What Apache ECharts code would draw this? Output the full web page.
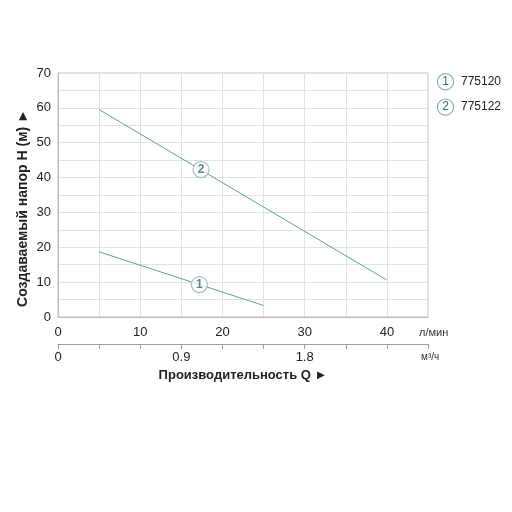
<!DOCTYPE html>
<html>
<head>
<meta charset="utf-8">
<script src="https://cdn.jsdelivr.net/npm/echarts@6/dist/echarts.min.js"></script>
<style>
  html, body { margin: 0; padding: 0; background: #fff; }
  #chart { width: 512px; height: 512px; }
</style>
</head>
<body>
<div id="chart"></div>
<script>
// flow in l/min, head in m
const pump1Flow = [5, 25];
const pump1Head = [18.7, 3.3];
const pump2Flow = [5, 40];
const pump2Head = [59.5, 10.6];

const models = ['775120', '775122'];
const badgeFlow = [17.2, 17.4];
const badgeHead = [9.3, 42.3];

// second scale, m³/h labels keyed by l/min tick
const m3hTickLabels = { 0: '0', 15: '0.9', 30: '1.8' };

const lineColor = '#5f9f9d';
const font = 'Liberation Sans, Arial, sans-serif';

const chart = echarts.init(document.getElementById('chart'));

const toPairs = (xs, ys) => xs.map((x, i) => [x, ys[i]]);

const badgeRich = {
  c: {
    width: 15, height: 15, lineHeight: 15,
    borderRadius: 8, borderColor: '#8db0af', borderWidth: 1.2,
    backgroundColor: '#fff', align: 'center',
    color: '#2d6e70', fontSize: 12, fontFamily: font
  },
  t: { color: '#222', fontSize: 12, fontFamily: font, padding: [0, 0, 0, 8] }
};

const option = {
  animation: false,
  grid: {
    left: 58, right: 84, top: 73, bottom: 195,
    containLabel: false, outerBoundsMode: 'none',
    show: true, borderColor: '#bdbdbd', borderWidth: 1
  },
  legend: {
    orient: 'vertical',
    left: 428, top: 68,
    itemGap: 8,
    icon: 'none',
    itemWidth: 0, itemHeight: 0,
    selectedMode: false,
    data: models,
    formatter: name => '{c|' + (models.indexOf(name) + 1) + '}{t|' + name + '}',
    textStyle: { rich: badgeRich }
  },
  xAxis: [
    {
      type: 'value', min: 0, max: 45, interval: 5,
      axisLine: { show: true, lineStyle: { color: '#bdbdbd' } },
      axisTick: { show: false },
      splitLine: { show: true, lineStyle: { color: '#e2e2e2' } },
      axisLabel: {
        margin: 9, color: '#222', fontSize: 13, fontFamily: font,
        formatter: v => (v % 10 === 0 ? String(v) : '')
      }
    },
    {
      type: 'value', min: 0, max: 45, interval: 5,
      position: 'bottom', offset: 27,
      axisLine: { show: true, onZero: false, lineStyle: { color: '#9e9e9e' } },
      axisTick: { show: true, length: 5, lineStyle: { color: '#9e9e9e' } },
      splitLine: { show: false },
      axisLabel: {
        margin: 7, color: '#222', fontSize: 13, fontFamily: font,
        formatter: v => m3hTickLabels[v] || ''
      },
      name: 'Производительность Q ►',
      nameLocation: 'middle', nameGap: 25,
      nameTextStyle: { color: '#222', fontSize: 13, fontWeight: 'bold', fontFamily: font }
    }
  ],
  yAxis: {
    type: 'value', min: 0, max: 70, interval: 5,
    axisLine: { show: true, lineStyle: { color: '#bdbdbd' } },
    axisTick: { show: false },
    splitLine: { show: true, lineStyle: { color: '#e2e2e2' } },
    axisLabel: {
      margin: 7, color: '#222', fontSize: 13, fontFamily: font,
      formatter: v => (v % 10 === 0 ? String(v) : '')
    },
    name: 'Создаваемый напор H (м) ►',
    nameLocation: 'middle', nameGap: 28,
    nameMoveOverlap: false,
    nameTextStyle: {
      color: '#222', fontSize: 14, fontWeight: 'bold', fontFamily: font,
      padding: [0, 26, 0, 0]
    }
  },
  graphic: [
    { type: 'text', left: 419, top: 327,
      style: { text: 'л/мин', fill: '#333', font: '11px ' + font } },
    { type: 'text', left: 421, top: 352,
      style: { text: 'м³/ч', fill: '#333', font: '10px ' + font } }
  ],
  series: [
    {
      name: models[0], type: 'line', xAxisIndex: 0,
      data: toPairs(pump1Flow, pump1Head),
      symbol: 'none', lineStyle: { color: lineColor, width: 1 },
      itemStyle: { color: lineColor }
    },
    {
      name: models[1], type: 'line', xAxisIndex: 0,
      data: toPairs(pump2Flow, pump2Head),
      symbol: 'none', lineStyle: { color: lineColor, width: 1 },
      itemStyle: { color: lineColor }
    },
    {
      type: 'scatter', xAxisIndex: 0, z: 5,
      data: toPairs(badgeFlow, badgeHead).map((p, i) => ({ value: p, num: i + 1 })),
      symbol: 'circle', symbolSize: 16,
      itemStyle: { color: '#fff', borderColor: '#8db0af', borderWidth: 1.2 },
      label: {
        show: true, position: 'inside',
        formatter: p => String(p.data.num),
        color: '#2d6e70', fontSize: 12, fontWeight: 'bold', fontFamily: font
      }
    }
  ]
};

chart.setOption(option);
</script>
</body>
</html>
